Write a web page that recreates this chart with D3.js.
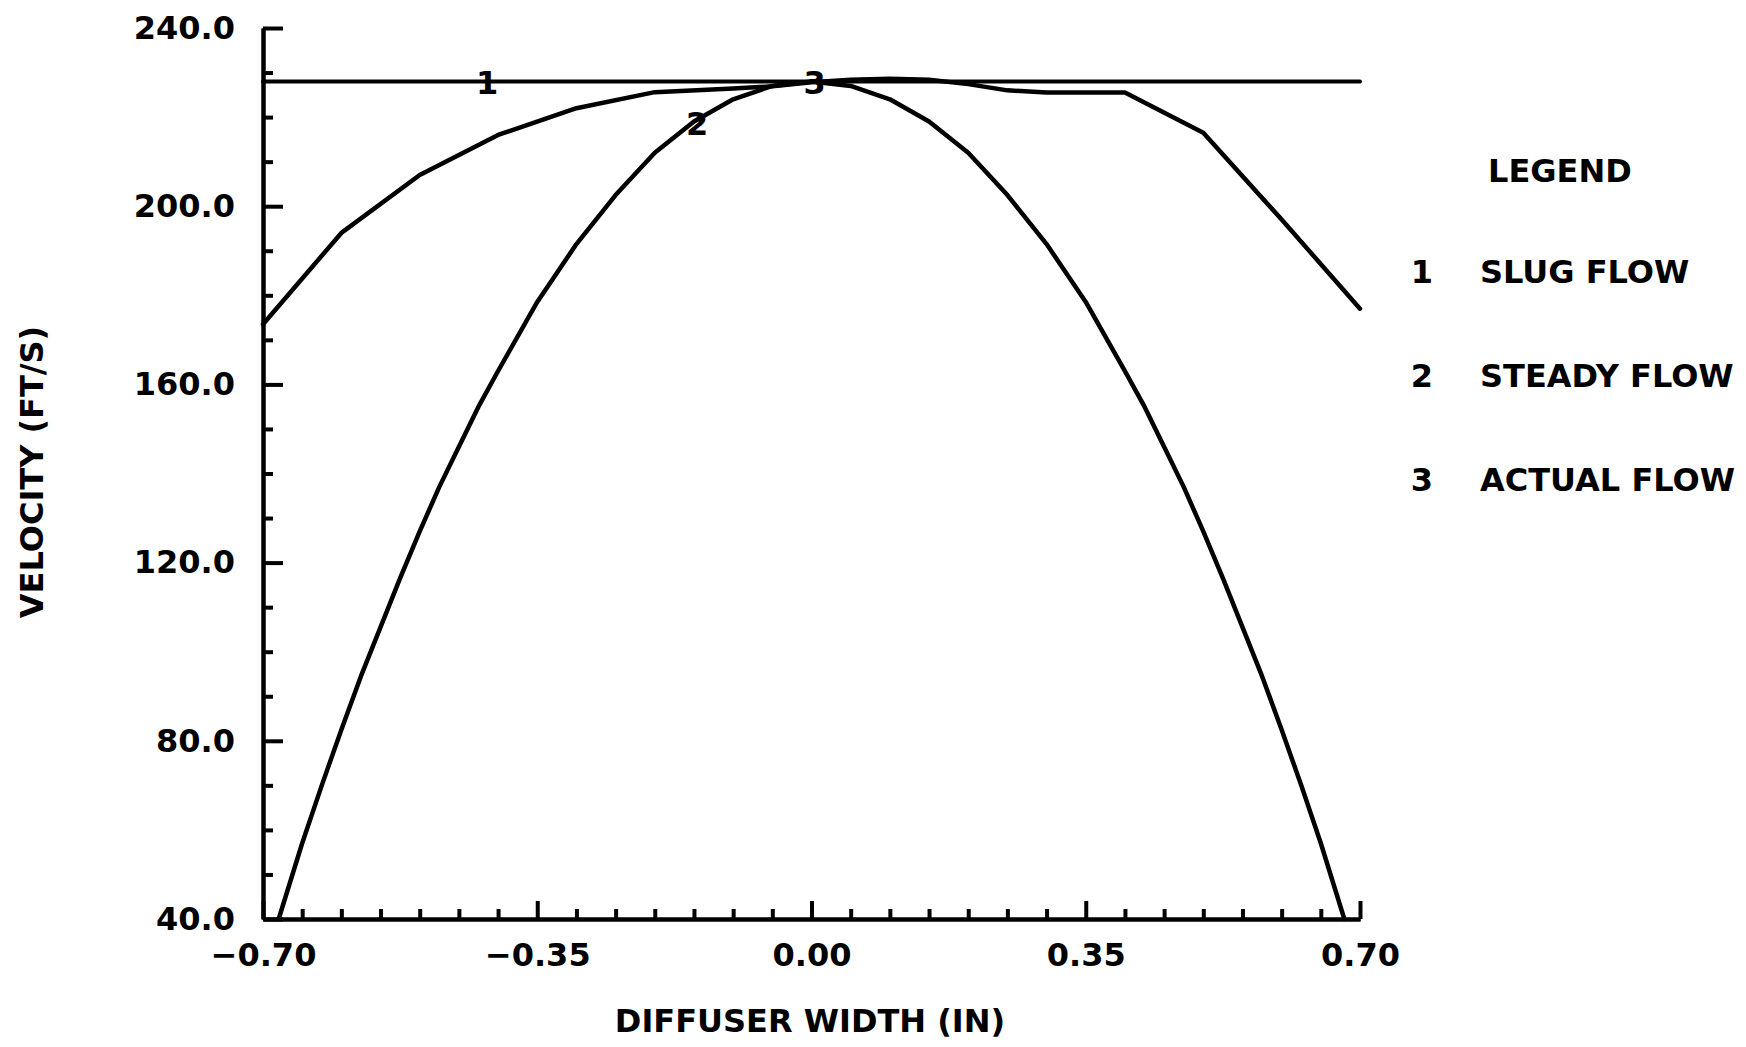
<!DOCTYPE html>
<html>
<head>
<meta charset="utf-8">
<script src="https://cdn.jsdelivr.net/npm/d3@7"></script>
<style>
  html, body { margin: 0; padding: 0; background: #fff; }
  svg { display: block; }
  text { font-family: "DejaVu Sans", sans-serif; font-weight: bold; fill: #000; }
</style>
</head>
<body>
<svg id="chart" width="1746" height="1047"></svg>
<script>
// ---- data ----
const xMajorTicks = [-0.70, -0.35, 0.00, 0.35, 0.70];
const xMinorTicks = [-0.65, -0.60, -0.55, -0.50, -0.45, -0.40, -0.30, -0.25, -0.20, -0.15, -0.10, -0.05,
                     0.05, 0.10, 0.15, 0.20, 0.25, 0.30, 0.40, 0.45, 0.50, 0.55, 0.60, 0.65];
const yMajorTicks = [40, 80, 120, 160, 200, 240];
const yMinorTicks = [50, 60, 70, 90, 100, 110, 130, 140, 150, 170, 180, 190, 210, 220, 230];

const slugX = [-0.70, 0.70];
const slugV = [228, 228];

const steadyX = [-0.68, -0.65, -0.625, -0.60, -0.575, -0.55, -0.525, -0.50, -0.475, -0.45, -0.425, -0.40, -0.35, -0.30, -0.25,
                 -0.20, -0.15, -0.10, -0.05, 0.00, 0.05, 0.10, 0.15, 0.20, 0.25, 0.30, 0.35, 0.40, 0.425, 0.45, 0.475,
                 0.50, 0.525, 0.55, 0.575, 0.60, 0.625, 0.65, 0.68];
const steadyV = [40, 57, 70, 82.5, 94.5, 105.5, 116.5, 127, 137, 146, 155, 163, 178.5, 191.5, 202.5,
                 212, 219, 224, 227, 228, 227, 224, 219, 212, 202.5, 191.5, 178.5, 163, 155, 146, 137,
                 127, 116.5, 105.5, 94.5, 82.5, 70, 57, 40];

const actualX = [-0.70, -0.60, -0.50, -0.40, -0.30, -0.20, -0.10, -0.05, 0.00, 0.05, 0.10, 0.15, 0.20, 0.25, 0.30, 0.40, 0.50, 0.60, 0.70];
const actualV = [173.5, 194, 207, 216, 222, 225.6, 226.4, 226.9, 227.8, 228.4, 228.6, 228.4, 227.4, 226, 225.5, 225.5, 216.5, 197, 177];

const markerText = ["1", "2", "3"];
const markerX = [-0.414, -0.146, 0.004];
const markerV = [228, 218.7, 228];

const legendTitle = "LEGEND";
const legendNums = ["1", "2", "3"];
const legendNames = ["SLUG FLOW", "STEADY FLOW", "ACTUAL FLOW"];

const xTitle = "DIFFUSER WIDTH (IN)";
const yTitle = "VELOCITY (FT/S)";

// ---- drawing ----
const svg = d3.select("#chart");
const x = d3.scaleLinear().domain([-0.70, 0.70]).range([263, 1360]);
const y = d3.scaleLinear().domain([40, 240]).range([919, 28]);
const FS = 32;

function styleAxis(g) {
  g.select(".domain").attr("stroke", "#000").attr("stroke-width", 4);
  g.selectAll(".tick line").attr("stroke", "#000").attr("stroke-width", 4);
  g.selectAll(".tick text").style("font-size", FS + "px").style("font-family", '"DejaVu Sans", sans-serif')
    .style("font-weight", "bold").attr("fill", "#000");
}

// x axis minor
svg.append("g").attr("transform", `translate(0,${y(40)})`)
  .call(d3.axisBottom(x).tickValues(xMinorTicks).tickSize(-10).tickSizeOuter(0).tickFormat(""))
  .call(styleAxis);
// x axis major
svg.append("g").attr("transform", `translate(0,${y(40)})`)
  .call(d3.axisBottom(x).tickValues(xMajorTicks).tickSize(-18).tickSizeOuter(0).tickPadding(24)
    .tickFormat(d => d < 0 ? "\u2212" + Math.abs(d).toFixed(2) : d.toFixed(2)))
  .call(styleAxis);

// y axis minor
svg.append("g").attr("transform", `translate(${x(-0.70)},0)`)
  .call(d3.axisLeft(y).tickValues(yMinorTicks).tickSize(-10).tickSizeOuter(0).tickFormat(""))
  .call(styleAxis);
// y axis major
svg.append("g").attr("transform", `translate(${x(-0.70)},0)`)
  .call(d3.axisLeft(y).tickValues(yMajorTicks).tickSize(-20).tickSizeOuter(0).tickPadding(28)
    .tickFormat(d3.format(".1f")))
  .call(styleAxis);

// curves
const line = d3.line().x(d => x(d[0])).y(d => y(d[1]));
const series = [
  { xs: slugX, vs: slugV, w: 4 },
  { xs: steadyX, vs: steadyV, w: 4.5 },
  { xs: actualX, vs: actualV, w: 4.5 }
];
series.forEach(s => {
  svg.append("path")
    .attr("d", line(s.xs.map((v, i) => [v, s.vs[i]])))
    .attr("fill", "none").attr("stroke", "#000").attr("stroke-width", s.w)
    .attr("stroke-linejoin", "round").attr("stroke-linecap", "round");
});

// curve markers
markerText.forEach((t, i) => {
  svg.append("text").attr("x", x(markerX[i])).attr("y", y(markerV[i]))
    .attr("text-anchor", "middle").attr("dy", "0.38em")
    .style("font-size", FS + "px").text(t);
});

// axis titles
svg.append("text").attr("x", 810).attr("y", 1032).attr("text-anchor", "middle")
  .style("font-size", FS + "px").text(xTitle);
svg.append("text").attr("transform", "translate(43,472) rotate(-90)").attr("text-anchor", "middle")
  .style("font-size", FS + "px").text(yTitle);

// legend
svg.append("text").attr("x", 1488).attr("y", 182).style("font-size", FS + "px").text(legendTitle);
const legendBase = [283, 387, 491];
legendNums.forEach((n, i) => {
  svg.append("text").attr("x", 1422).attr("y", legendBase[i]).attr("text-anchor", "middle")
    .style("font-size", FS + "px").text(n);
  svg.append("text").attr("x", 1480).attr("y", legendBase[i])
    .style("font-size", FS + "px").text(legendNames[i]);
});
</script>
</body>
</html>
